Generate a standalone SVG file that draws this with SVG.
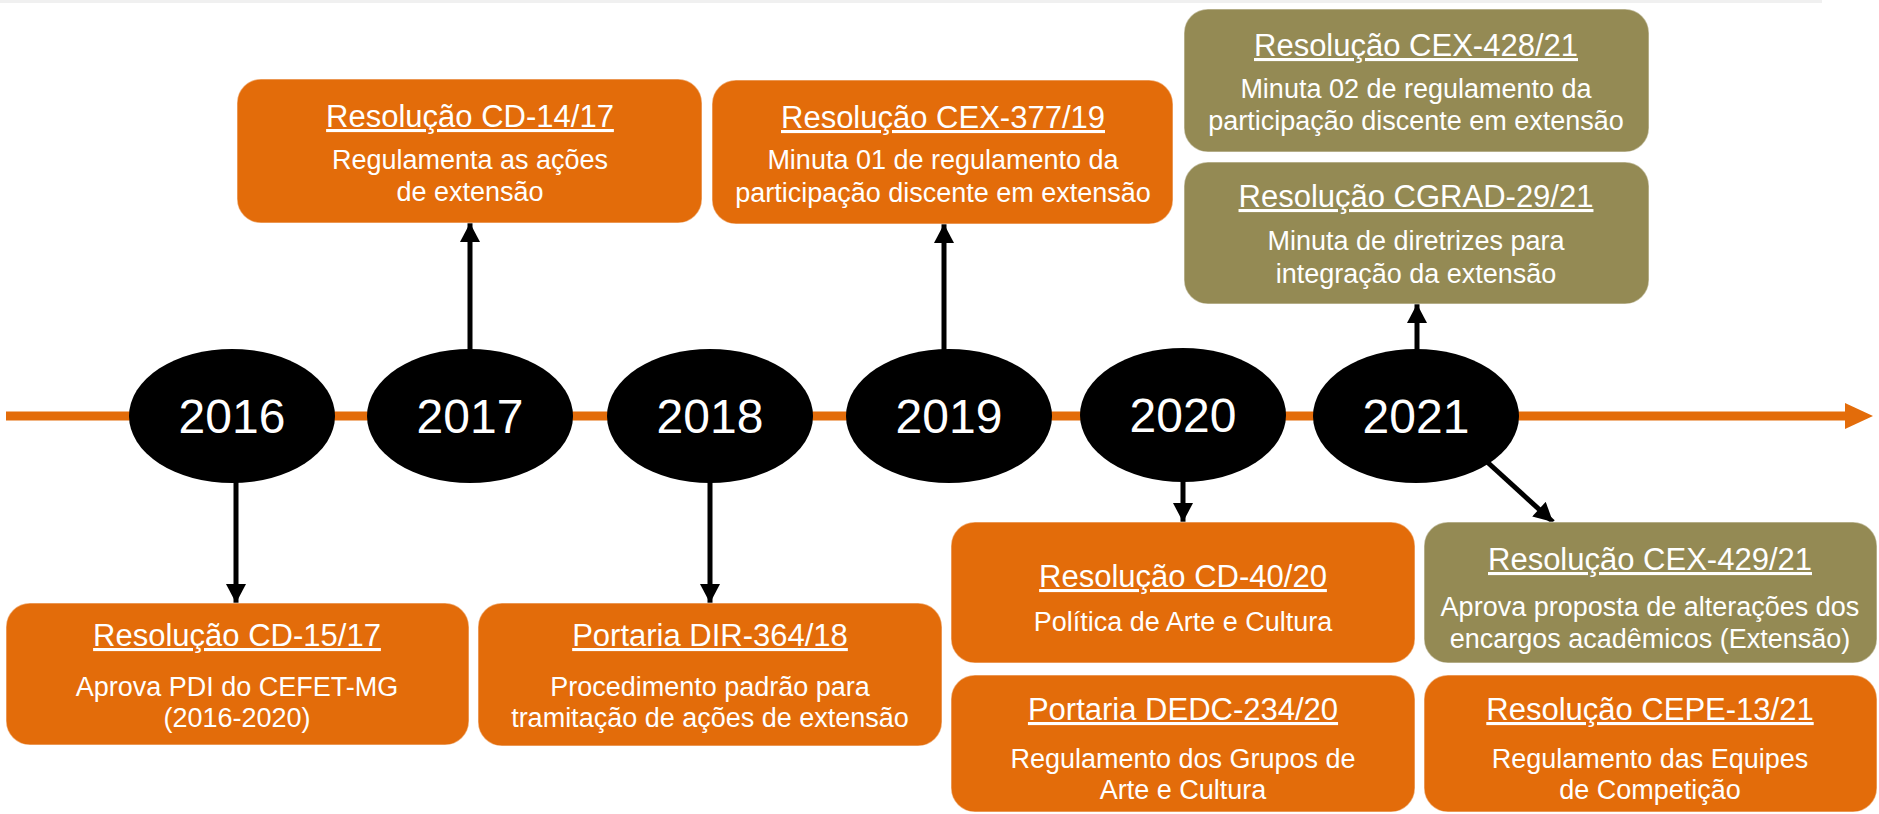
<svg xmlns="http://www.w3.org/2000/svg" width="1879" height="814" viewBox="0 0 1879 814">
<style>
text{font-family:"Liberation Sans",Arial,sans-serif;fill:#fff;text-anchor:middle}
.t{font-size:31px;text-decoration:underline}
.b{font-size:27px}
.y{font-size:48px}
.o{fill:#e36c0a;stroke:#fff;stroke-opacity:0.4;stroke-width:1.5}
.g{fill:#948a54;stroke:#fff;stroke-opacity:0.4;stroke-width:1.5}
.c{stroke:#000;stroke-width:5;fill:none;marker-end:url(#ah)}
</style>
<defs>
<marker id="ah" markerUnits="userSpaceOnUse" markerWidth="20" markerHeight="20" viewBox="0 0 19 20" refX="19" refY="10" orient="auto">
<path d="M0,0 L19,10 L0,20 Z" fill="#000"/>
</marker>
</defs>
<rect x="0" y="0" width="1822" height="3" fill="#f0f0f0"/>
<g id="timeline">
<line x1="6" y1="416" x2="1848" y2="416" stroke="#e36c0a" stroke-width="9"/>
<path d="M1845,403 L1873,416 L1845,429 Z" fill="#e36c0a"/>
</g>
<g id="connectors">
<line class="c" x1="236" y1="470" x2="236" y2="603"/>
<line class="c" x1="470" y1="360" x2="470" y2="223"/>
<line class="c" x1="710" y1="470" x2="710" y2="603"/>
<line class="c" x1="944" y1="360" x2="944" y2="224"/>
<line class="c" x1="1183" y1="470" x2="1183" y2="522"/>
<line class="c" x1="1417" y1="360" x2="1417" y2="304"/>
<line class="c" x1="1485" y1="460" x2="1553" y2="522"/>
</g>
<g id="y2016"><ellipse cx="232" cy="416" rx="103" ry="67"/><text class="y" x="232" y="433">2016</text></g>
<g id="y2017"><ellipse cx="470" cy="416" rx="103" ry="67"/><text class="y" x="470" y="433">2017</text></g>
<g id="y2018"><ellipse cx="710" cy="416" rx="103" ry="67"/><text class="y" x="710" y="433">2018</text></g>
<g id="y2019"><ellipse cx="949" cy="416" rx="103" ry="67"/><text class="y" x="949" y="433">2019</text></g>
<g id="y2020"><ellipse cx="1183" cy="415" rx="103" ry="67"/><text class="y" x="1183" y="432">2020</text></g>
<g id="y2021"><ellipse cx="1416" cy="416" rx="103" ry="67"/><text class="y" x="1416" y="433">2021</text></g>
<g id="cd1417"><rect class="o" x="237" y="79" width="465" height="144" rx="24"/>
<text class="t" x="470" y="127">Resolução CD-14/17</text>
<text class="b" x="470" y="169">Regulamenta as ações</text>
<text class="b" x="470" y="201">de extensão</text></g>
<g id="cex37719"><rect class="o" x="712" y="80" width="461" height="144" rx="24"/>
<text class="t" x="943" y="128">Resolução CEX-377/19</text>
<text class="b" x="943" y="169">Minuta 01 de regulamento da</text>
<text class="b" x="943" y="202">participação discente em extensão</text></g>
<g id="cex42821"><rect class="g" x="1184" y="9" width="465" height="143" rx="24"/>
<text class="t" x="1416" y="56">Resolução CEX-428/21</text>
<text class="b" x="1416" y="98">Minuta 02 de regulamento da</text>
<text class="b" x="1416" y="130">participação discente em extensão</text></g>
<g id="cgrad2921"><rect class="g" x="1184" y="162" width="465" height="142" rx="24"/>
<text class="t" x="1416" y="207">Resolução CGRAD-29/21</text>
<text class="b" x="1416" y="250">Minuta de diretrizes para</text>
<text class="b" x="1416" y="283">integração da extensão</text></g>
<g id="cd1517"><rect class="o" x="6" y="603" width="463" height="142" rx="24"/>
<text class="t" x="237" y="646">Resolução CD-15/17</text>
<text class="b" x="237" y="696">Aprova PDI do CEFET-MG</text>
<text class="b" x="237" y="727">(2016-2020)</text></g>
<g id="dir36418"><rect class="o" x="478" y="603" width="464" height="143" rx="24"/>
<text class="t" x="710" y="646">Portaria DIR-364/18</text>
<text class="b" x="710" y="696">Procedimento padrão para</text>
<text class="b" x="710" y="727">tramitação de ações de extensão</text></g>
<g id="cd4020"><rect class="o" x="951" y="522" width="464" height="141" rx="24"/>
<text class="t" x="1183" y="587">Resolução CD-40/20</text>
<text class="b" x="1183" y="631">Política de Arte e Cultura</text></g>
<g id="dedc23420"><rect class="o" x="951" y="675" width="464" height="137" rx="24"/>
<text class="t" x="1183" y="720">Portaria DEDC-234/20</text>
<text class="b" x="1183" y="768">Regulamento dos Grupos de</text>
<text class="b" x="1183" y="799">Arte e Cultura</text></g>
<g id="cex42921"><rect class="g" x="1424" y="522" width="453" height="141" rx="24"/>
<text class="t" x="1650" y="570">Resolução CEX-429/21</text>
<text class="b" x="1650" y="616">Aprova proposta de alterações dos</text>
<text class="b" x="1650" y="648">encargos acadêmicos (Extensão)</text></g>
<g id="cepe1321"><rect class="o" x="1424" y="675" width="453" height="137" rx="24"/>
<text class="t" x="1650" y="720">Resolução CEPE-13/21</text>
<text class="b" x="1650" y="768">Regulamento das Equipes</text>
<text class="b" x="1650" y="799">de Competição</text></g>
</svg>
